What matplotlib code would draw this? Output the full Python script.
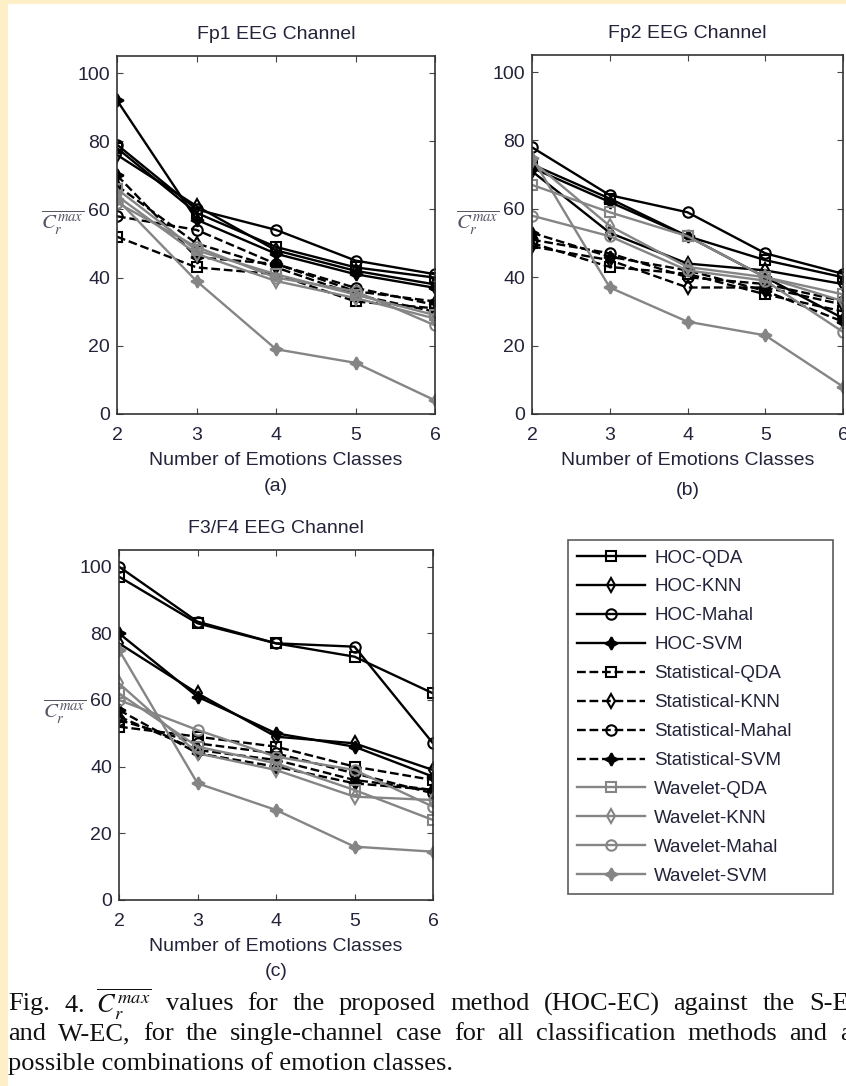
import matplotlib
matplotlib.use("Agg")
import matplotlib.pyplot as plt
from matplotlib.patches import Rectangle

# ---- data ----
n_classes = [2, 3, 4, 5, 6]
series_names = ['HOC-QDA', 'HOC-KNN', 'HOC-Mahal', 'HOC-SVM',
                'Statistical-QDA', 'Statistical-KNN', 'Statistical-Mahal', 'Statistical-SVM',
                'Wavelet-QDA', 'Wavelet-KNN', 'Wavelet-Mahal', 'Wavelet-SVM']

fp1_values = [
    [78, 59, 49, 43, 40],
    [76, 61, 48, 42, 38],
    [79, 60, 54, 45, 41],
    [92, 57, 47, 41, 37],
    [52, 43, 41, 33, 31],
    [67, 50, 43, 35, 30],
    [58, 54, 44, 37, 32],
    [70, 46, 44, 36, 33],
    [66, 48, 41, 35, 29],
    [64, 47, 39, 34, 28],
    [62, 49, 40, 36, 26],
    [63, 39, 19, 15, 4],
]

fp2_values = [
    [73, 63, 52, 45, 40],
    [71, 53, 44, 42, 38],
    [78, 64, 59, 47, 41],
    [72, 62, 52, 40, 28],
    [50, 43, 41, 35, 30],
    [49, 45, 37, 37, 32],
    [51, 47, 40, 38, 33],
    [53, 46, 42, 36, 27],
    [67, 59, 52, 40, 35],
    [74, 55, 43, 40, 33],
    [58, 52, 42, 39, 24],
    [75, 37, 27, 23, 8],
]

f3f4_values = [
    [97, 83, 77, 73, 62],
    [77, 62, 49, 47, 39],
    [100, 83.5, 77, 76, 47],
    [80, 61, 50, 46, 37],
    [52, 49, 46, 40, 36],
    [55, 45, 42, 36, 33],
    [54, 47, 44, 38, 32],
    [57, 44, 40, 35, 33],
    [62, 46, 41, 33, 24],
    [65, 44, 39, 31, 30],
    [60, 51, 43, 39, 28],
    [75, 35, 27, 16, 14.5],
]

y_ticks = [0, 20, 40, 60, 80, 100]

caption_lines = [
    r'Fig. 4.  $\overline{C_r^{max}}$ values for the proposed method (HOC-EC) against the S-EC',
    'and W-EC, for the single-channel case for all classification methods and all',
    'possible combinations of emotion classes.',
]

# ---- styles ----
W, H = 846, 1086
TEXT = '#23233a'
GRAY = '#858585'
star = (4, 1, 0)
markers = ['s', 'd', 'o', star] * 3
colors = ['black'] * 8 + [GRAY] * 4
styles = ['-'] * 4 + ['--'] * 4 + ['-'] * 4

plt.rcParams['font.family'] = ['Liberation Sans', 'DejaVu Sans']
plt.rcParams['mathtext.fontset'] = 'stix'

fig = plt.figure(figsize=(W / 100, H / 100), dpi=100)
fig.patch.set_facecolor('#fdf0c6')
fig.patches.append(Rectangle((8 / W, 0), 1, 1 - 4 / H, transform=fig.transFigure,
                             facecolor='white', edgecolor='none', zorder=-10))


def px_box(x0, y0, x1, y1):
    return [x0 / W, 1 - y1 / H, (x1 - x0) / W, (y1 - y0) / H]


def draw_panel(box, values, title, tag, tag_y, label_y):
    ax = fig.add_axes(px_box(*box))
    for name, vals, m, c, ls in zip(series_names, values, markers, colors, styles):
        filled = m == star
        ax.plot(n_classes, vals, linestyle=ls, color=c, lw=1.7,
                marker=m, markersize=9 if filled else 7.5,
                markerfacecolor=c if filled else 'none',
                markeredgecolor=c, markeredgewidth=1.5, label=name)
    ax.set_xlim(2, 6)
    ax.set_ylim(0, 105)
    ax.set_xticks(n_classes)
    ax.set_yticks(y_ticks)
    ax.tick_params(direction='in', top=True, right=True, length=4,
                   labelsize=14, colors='#444444', labelcolor=TEXT)
    ax.tick_params(axis='x', pad=9)
    ax.tick_params(axis='y', pad=5)
    for sp in ax.spines.values():
        sp.set_color('#333333')
        sp.set_linewidth(1.2)
    ax.set_title(title, fontsize=14, color=TEXT, pad=12)
    ax.set_xlabel('Number of Emotions Classes', fontsize=14, color=TEXT, labelpad=6)
    xc = (box[0] + box[2]) / 2 / W
    fig.text(xc, 1 - tag_y / H, tag, fontsize=14, color=TEXT, ha='center', va='center')
    fig.text((box[0] - 54) / W, 1 - label_y / H, r'$\overline{C_r^{max}}$',
             fontsize=15, color='#555566', ha='center', va='center')
    return ax


ax_a = draw_panel((117, 56, 435, 414), fp1_values, 'Fp1 EEG Channel', '(a)', 486, 223)
ax_b = draw_panel((532, 55, 843, 414), fp2_values, 'Fp2 EEG Channel', '(b)', 490, 223)
ax_c = draw_panel((119, 550, 433, 900), f3f4_values, 'F3/F4 EEG Channel', '(c)', 971, 712)

# legend stretched to the reference box (x 568-833, y 540-892)
handles, labels = ax_a.get_legend_handles_labels()
leg = fig.legend(handles, labels, loc='upper left', mode='expand',
                 bbox_to_anchor=(568 / W, 1 - 892 / H, (833 - 568) / W, (892 - 540) / H),
                 fontsize=13.5, frameon=True, fancybox=False, edgecolor='#333333',
                 handlelength=3.6, handletextpad=0.5, labelspacing=0.63,
                 borderpad=0.5, borderaxespad=0)
leg.get_frame().set_linewidth(1.2)
for t in leg.get_texts():
    t.set_color(TEXT)

# caption: first two lines justified to a width wider than the crop
cap_kw = dict(fontsize=19, family='Liberation Serif', color='#111111', ha='left', va='center')
renderer = fig.canvas.get_renderer()
cap_left, cap_right = 8, 866
cap_y = [1004, 1034, 1064]
for i, (line, y) in enumerate(zip(caption_lines, cap_y)):
    if i == len(caption_lines) - 1:
        fig.text(cap_left / W, 1 - y / H, line, **cap_kw)
        continue
    words = line.replace('Fig. 4.  ', 'Fig. 4.\u2003').split(' ')
    words = [w.replace('\u2003', '  ') for w in words]
    texts = [fig.text(0, 1 - y / H, w, **cap_kw) for w in words]
    widths = [t.get_window_extent(renderer).width for t in texts]
    gap = (cap_right - cap_left - sum(widths)) / (len(words) - 1)
    x = cap_left
    for t, w in zip(texts, widths):
        t.set_x(x / W)
        x += w + gap

fig.savefig('out.png', dpi=100, facecolor=fig.get_facecolor())
